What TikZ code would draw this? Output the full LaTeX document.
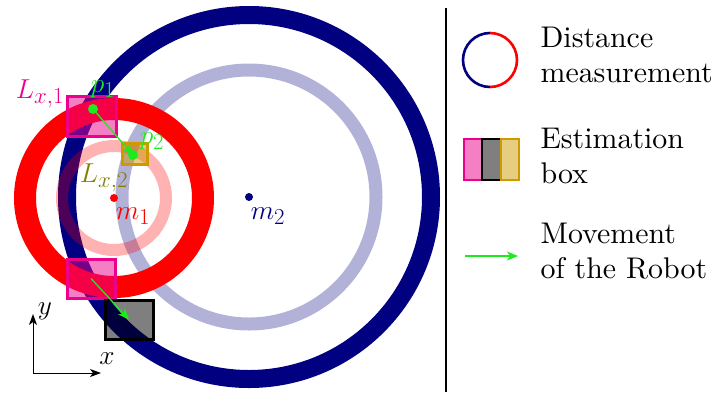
\documentclass[tikz,border=0pt]{standalone}
\usetikzlibrary{arrows.meta}
\definecolor{navyc}{RGB}{0,0,128}
\definecolor{goldc}{RGB}{205,155,0}
\definecolor{olivec}{RGB}{128,128,0}
\definecolor{greenc}{RGB}{30,235,30}
\tikzset{
  ring/.style={line width=#1},
  ebox/.style={draw=#1, fill=#1, fill opacity=0.5, line width=3pt},
  mv/.style={greenc, line width=1.3pt, -{Stealth[length=11pt,width=9pt,inset=3pt]}},
  ax/.style={black, line width=0.9pt, -{Stealth[length=11pt,width=8pt,inset=3pt]}},
  lbl/.style={inner sep=0pt, scale=1.1, font=\fontsize{24.88}{30}\selectfont},
  legtext/.style={align=left, anchor=base west, inner sep=0pt, scale=2.99, font=\fontsize{10}{11.7}\selectfont},
}
\begin{document}
\begin{tikzpicture}[x=1pt,y=-1pt]
\useasboundingbox (0,0) rectangle (715,392);
% centres
\coordinate (m2c) at (249,197);
\coordinate (m1c) at (114,198);
% rings
\draw[navyc, ring=18pt] (m2c) circle[radius=182];
\draw[navyc, opacity=0.3, ring=13pt] (m2c) circle[radius=127];
\draw[red, ring=22pt] (m1c) circle[radius=89];
\draw[red, opacity=0.3, ring=12pt] (m1c) circle[radius=52];
% centre dots
\fill[red] (m1c) circle[radius=4];
\fill[navyc] (m2c) circle[radius=4];
\node[lbl, text=red] (m1) at (133,216) {$m_1$};
\node[lbl, text=navyc] (m2) at (268,216) {$m_2$};
% estimation boxes
\draw[ebox=magenta] (67,96) rectangle (116,136) coordinate[pos=0.5] (b1);
\draw[ebox=goldc] (122,143) rectangle (147,164) coordinate[pos=0.5] (b2);
\draw[ebox=magenta] (67,259) rectangle (115,298) coordinate[pos=0.5] (b3);
\draw[ebox=black] (105,300) rectangle (153,339) coordinate[pos=0.5] (b4);
% points and movement
\coordinate (p1c) at (93,109);
\coordinate (p2c) at (133,155);
\draw[mv] (p1c) -- (p2c);
\fill[greenc] (p1c) circle[radius=5];
\fill[greenc] (p2c) circle[radius=5];
\draw[mv] (b3) -- (b4);
\node[lbl, text=greenc] (p1) at (103,89) {$p_1$};
\node[lbl, text=greenc] (p2) at (152,141) {$p_2$};
\node[lbl, text=magenta] (lx1) at (40,94) {$L_{x,1}$};
\node[lbl, text=olivec] (lx2) at (104,178) {$L_{x,2}$};
% axes
\coordinate (o) at (33,373);
\coordinate (ye) at (33,314);
\coordinate (xe) at (101,373);
\draw[ax] (o) -- (ye);
\draw[ax] (o) -- (xe);
\node[lbl] (ylab) at (45,311) {$y$};
\node[lbl] (xlab) at (107,359) {$x$};
% divider
\coordinate (dv1) at (446,8);
\coordinate (dv2) at (446,392);
\draw[line width=1.1pt] (dv1) -- (dv2);
% legend
\coordinate (lc) at (490,60);
\draw[navyc, line width=2.6pt] ([shift={(0,-27)}]lc) arc[start angle=-90, end angle=-270, radius=27];
\draw[red, line width=2.6pt] ([shift={(0,-27)}]lc) arc[start angle=-90, end angle=90, radius=27];
\node[legtext] (t1) at (540,82) {Distance\\measurement};
\draw[ebox=magenta, line width=2.6pt] (464,139) rectangle (482,180);
\draw[ebox=black, line width=2.6pt] (482,139) rectangle (501,180);
\draw[ebox=goldc, line width=2.6pt] (501,139) rectangle (519,180);
\node[legtext] (t2) at (540,183) {Estimation\\box};
\coordinate (la1) at (465,256);
\coordinate (la2) at (518,256);
\draw[mv] (la1) -- (la2);
\node[legtext] (t3) at (540,278) {Movement\\of the Robot};
\end{tikzpicture}
\end{document}
